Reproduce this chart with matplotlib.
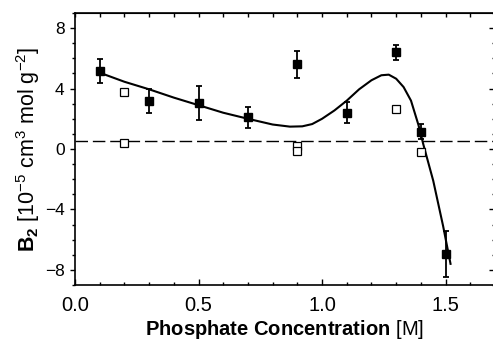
import numpy as np
import matplotlib
matplotlib.use("Agg")
import matplotlib.pyplot as plt

plt.rcParams['font.family'] = ['Liberation Sans', 'DejaVu Sans']
plt.rcParams['mathtext.fontset'] = 'custom'
plt.rcParams['mathtext.rm'] = 'Liberation Sans'
plt.rcParams['mathtext.bf'] = 'Liberation Sans:bold'
plt.rcParams['mathtext.it'] = 'Liberation Sans:italic'

# measured B2 (filled squares) with error bars
conc = [0.1, 0.3, 0.5, 0.7, 0.9, 1.1, 1.3, 1.4, 1.5]
b2 = [5.15, 3.2, 3.05, 2.1, 5.6, 2.4, 6.4, 1.15, -6.95]
b2_err = [0.8, 0.8, 1.1, 0.7, 0.9, 0.7, 0.5, 0.5, 1.5]

# open squares
conc_open = [0.2, 0.2, 0.9, 0.9, 1.3, 1.4]
b2_open = [3.75, 0.38, 0.2, -0.15, 2.65, -0.2]

# fitted curve
fit_x = [0.10, 0.20, 0.30, 0.40, 0.50, 0.60, 0.70, 0.80, 0.87, 0.92, 0.96,
         1.00, 1.05, 1.10, 1.15, 1.20, 1.24, 1.27, 1.30, 1.33, 1.36, 1.39,
         1.41, 1.45, 1.49, 1.52]
fit_y = [5.05, 4.45, 3.95, 3.4, 2.9, 2.4, 2.0, 1.62, 1.48, 1.5, 1.65,
         2.0, 2.55, 3.2, 3.95, 4.55, 4.88, 4.92, 4.65, 4.1, 3.2, 1.6,
         0.3, -2.1, -5.1, -7.6]

baseline = 0.55

fig = plt.figure(figsize=(4.93, 3.41), dpi=100)
ax = fig.add_axes([75/493, 56/341, 420/493, 272/341])

ax.plot(fit_x, fit_y, color='black', lw=1.5, zorder=2)
ax.axhline(baseline, color='black', lw=1.0, dashes=(9, 3.5), zorder=1)
ax.errorbar(conc, b2, yerr=b2_err, fmt='s', color='black', ms=6,
            elinewidth=1.3, capsize=2.5, capthick=1.3, zorder=3)
ax.plot(conc_open, b2_open, 's', mfc='white', mec='black', mew=0.9, ms=6,
        ls='none', zorder=3)

ax.set_xlim(0, 1.7)
ax.set_ylim(-9, 9)
ax.set_xticks([0.0, 0.5, 1.0, 1.5])
ax.set_xticklabels(['0.0', '0.5', '1.0', '1.5'])
ax.set_xticks(np.arange(0, 1.71, 0.1), minor=True)
ax.set_yticks([-8, -4, 0, 4, 8])
ax.set_yticklabels(['\u22128', '\u22124', '0', '4', '8'])
ax.set_yticks(np.arange(-9, 9.1, 1), minor=True)

for s in ax.spines.values():
    s.set_linewidth(1.2)

ax.tick_params(axis='x', which='both', direction='in', labelsize=14.5, pad=8,
               width=1.0)
ax.tick_params(axis='x', which='major', length=4)
ax.tick_params(axis='x', which='minor', length=2.2)
ax.tick_params(axis='y', which='both', direction='out', labelsize=12.5, pad=4,
               width=1.0)
ax.tick_params(axis='y', which='major', length=3.5)
ax.tick_params(axis='y', which='minor', length=2)

top = ax.secondary_xaxis('top')
top.set_xticks(np.arange(0, 1.71, 0.1))
top.tick_params(direction='in', length=3, width=1.0, labeltop=False)
right = ax.secondary_yaxis('right')
right.set_yticks([-8, -4, 0, 4, 8])
right.set_yticks(np.arange(-9, 9.1, 1), minor=True)
right.tick_params(which='both', direction='in', width=1.0, labelright=False)
right.tick_params(which='major', length=4)
right.tick_params(which='minor', length=2.5)

ax.set_xlabel(r'$\mathbf{Phosphate\ Concentration}$ [M]', fontsize=14.5, labelpad=2)
ax.set_ylabel(r'$\mathbf{B_2}$ [10$^{-5}$ cm$^3$ mol g$^{-2}$]', fontsize=15.5, labelpad=2)

fig.savefig('out.png', dpi=100)
